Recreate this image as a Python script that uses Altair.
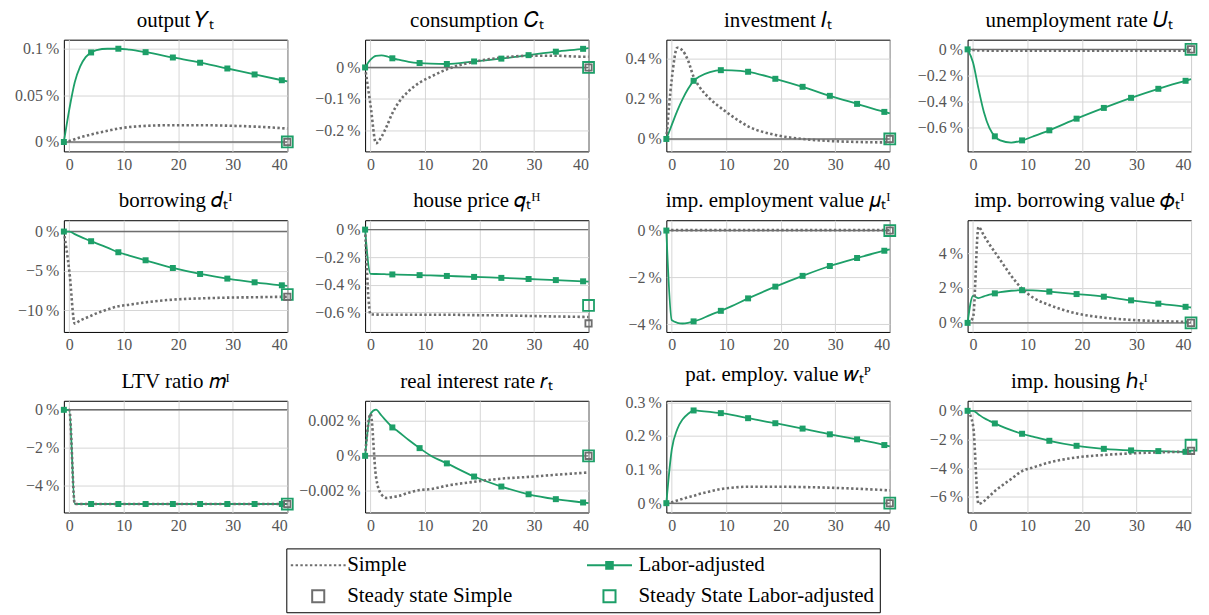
import altair as alt
import pandas as pd

# ---------------- data ----------------
T = [-1, 0, 1, 2, 3, 4, 5, 7, 9, 11, 14, 19, 24, 29, 34, 39, 40]
MARK_T = [-1, 4, 9, 14, 19, 24, 29, 34, 39]

titles = [
    "output 𝑌ₜ", "consumption 𝐶ₜ", "investment 𝐼ₜ", "unemployment rate 𝑈ₜ",
    "borrowing 𝑑ₜᴵ", "house price 𝑞ₜᴴ", "imp. employment value 𝜇ₜᴵ", "imp. borrowing value 𝜙ₜᴵ",
    "LTV ratio 𝑚ᴵ", "real interest rate 𝑟ₜ", "pat. employ. value 𝑤ₜᴾ", "imp. housing ℎₜᴵ",
]

output_simple = [0, 0.001, 0.003, 0.005, 0.0065, 0.008, 0.0095, 0.012, 0.0145, 0.016, 0.0173, 0.018, 0.018, 0.0175, 0.0165, 0.0148, 0.0143]
output_labor = [0, 0.035, 0.064, 0.081, 0.091, 0.096, 0.0985, 0.1, 0.1, 0.099, 0.0963, 0.0906, 0.085, 0.0788, 0.0724, 0.0662, 0.065]

cons_simple = [0, -0.12, -0.24, -0.22, -0.185, -0.145, -0.115, -0.075, -0.048, -0.03, -0.006, 0.018, 0.031, 0.037, 0.037, 0.034, 0.034]
cons_labor = [0, 0.025, 0.037, 0.038, 0.035, 0.029, 0.025, 0.018, 0.014, 0.012, 0.011, 0.019, 0.028, 0.039, 0.05, 0.059, 0.061]

inv_simple = [0, 0.3, 0.455, 0.44, 0.39, 0.31, 0.263, 0.2, 0.155, 0.115, 0.063, 0.02, 0.0, -0.01, -0.015, -0.017, -0.017]
inv_labor = [0, 0.07, 0.14, 0.2, 0.25, 0.29, 0.31, 0.333, 0.343, 0.342, 0.335, 0.30, 0.26, 0.215, 0.175, 0.135, 0.128]

unemp_simple = [0, -0.005, -0.008, -0.009, -0.01, -0.01, -0.01, -0.01, -0.01, -0.01, -0.01, -0.01, -0.01, -0.01, -0.01, -0.01, -0.01]
unemp_labor = [0, -0.1, -0.3, -0.48, -0.6, -0.664, -0.695, -0.712, -0.695, -0.665, -0.618, -0.529, -0.447, -0.37, -0.301, -0.24, -0.228]

borrow_simple = [0, -5.0, -11.7, -11.3, -11.0, -10.7, -10.4, -9.9, -9.5, -9.3, -9.0, -8.65, -8.5, -8.4, -8.35, -8.3, -8.3]
borrow_labor = [0, 0, -0.33, -0.65, -0.95, -1.23, -1.5, -2.05, -2.63, -3.05, -3.65, -4.63, -5.39, -5.98, -6.45, -6.83, -6.9]

house_simple = [0, -0.615, -0.616, -0.617, -0.617, -0.617, -0.617, -0.617, -0.617, -0.617, -0.617, -0.62, -0.622, -0.626, -0.63, -0.633, -0.634]
house_labor = [0, -0.321, -0.322, -0.323, -0.324, -0.325, -0.326, -0.328, -0.33, -0.332, -0.336, -0.343, -0.35, -0.358, -0.366, -0.375, -0.377]

empv_simple = [0, 0.02, 0.02, 0.02, 0.02, 0.02, 0.02, 0.02, 0.02, 0.02, 0.02, 0.02, 0.02, 0.02, 0.02, 0.02, 0.02]
empv_labor = [0, -3.82, -3.93, -3.96, -3.93, -3.87, -3.8, -3.6, -3.42, -3.22, -2.89, -2.39, -1.93, -1.51, -1.17, -0.86, -0.8]

borv_simple = [0, 0.3, 5.5, 5.0, 4.5, 4.05, 3.6, 2.7, 1.95, 1.45, 1.02, 0.54, 0.3, 0.17, 0.1, 0.06, 0.05]
borv_labor = [0, 1.55, 1.42, 1.52, 1.62, 1.69, 1.76, 1.84, 1.87, 1.86, 1.79, 1.65, 1.5, 1.29, 1.1, 0.92, 0.88]

ltv_simple = [0, 0, -5, -5, -5, -5, -5, -5, -5, -5, -5, -5, -5, -5, -5, -5, -5]
ltv_labor = [0, 0, -5, -5, -5, -5, -5, -5, -5, -5, -5, -5, -5, -5, -5, -5, -5]

rate_simple = [0, 0.0024, -0.0012, -0.0022, -0.0024, -0.00235, -0.0023, -0.0021, -0.00195, -0.0019, -0.0017, -0.00148, -0.0013, -0.0012, -0.00108, -0.00097, -0.00095]
rate_labor = [0, 0.0024, 0.00263, 0.0023, 0.00195, 0.00162, 0.0014, 0.0009, 0.00044, 0.00002, -0.00043, -0.00118, -0.00175, -0.00219, -0.00247, -0.00266, -0.0027]

pat_simple = [0, 0.003, 0.008, 0.013, 0.018, 0.022, 0.027, 0.035, 0.042, 0.046, 0.049, 0.049, 0.048, 0.046, 0.043, 0.039, 0.038]
pat_labor = [0, 0.16, 0.22, 0.25, 0.266, 0.276, 0.275, 0.272, 0.268, 0.263, 0.253, 0.238, 0.222, 0.205, 0.19, 0.173, 0.169]

hous_simple = [0, -1.0, -6.5, -6.3, -5.95, -5.6, -5.3, -4.75, -4.2, -3.95, -3.6, -3.25, -3.08, -2.97, -2.9, -2.86, -2.86]
hous_labor = [0, 0, -0.25, -0.5, -0.7, -0.88, -1.05, -1.35, -1.6, -1.8, -2.09, -2.44, -2.65, -2.76, -2.81, -2.86, -2.86]

simple_series = [output_simple, cons_simple, inv_simple, unemp_simple, borrow_simple, house_simple,
                 empv_simple, borv_simple, ltv_simple, rate_simple, pat_simple, hous_simple]
labor_series = [output_labor, cons_labor, inv_labor, unemp_labor, borrow_labor, house_labor,
                empv_labor, borv_labor, ltv_labor, rate_labor, pat_labor, hous_labor]

ss_simple = [0, 0, 0, 0, -8.3, -0.68, 0, 0, -5, 0, 0, -2.79]
ss_labor = [0, 0, 0, 0, -8.0, -0.55, 0, 0, -5, 0, 0, -2.4]

y_ticks = [
    [0, 0.05, 0.1], [-0.2, -0.1, 0], [0, 0.2, 0.4], [-0.6, -0.4, -0.2, 0],
    [-10, -5, 0], [-0.6, -0.4, -0.2, 0], [-4, -2, 0], [0, 2, 4],
    [-4, -2, 0], [-0.002, 0, 0.002], [0, 0.1, 0.2, 0.3], [-6, -4, -2, 0],
]
y_domains = [
    [-0.0101, 0.1097], [-0.266, 0.088], [-0.062, 0.495], [-0.779, 0.074],
    [-12.76, 1.44], [-0.742, 0.068], [-4.32, 0.44], [-0.52, 5.88],
    [-5.45, 0.48], [-0.00323, 0.00314], [-0.0277, 0.3048], [-7.09, 0.70],
]
x_ticks = [0, 10, 20, 30, 40]

legend_labels = ["Simple", "Labor-adjusted", "Steady state Simple", "Steady State Labor-adjusted"]

# ---------------- styles ----------------
GREEN = "#1d9f68"
GREY = "#6e6e6e"
SERIF = "Liberation Serif"
W, H = 224, 112
SQ = "M-0.55,-0.55H0.55V0.55H-0.55Z"

LEG = alt.Legend(title=None, orient="none", legendX=223, legendY=510, columns=2,
                 direction="horizontal")


def panel(i):
    df = pd.DataFrame({
        "t": T + T,
        "value": simple_series[i] + labor_series[i],
        "series": ["Simple"] * len(T) + ["Labor-adjusted"] * len(T),
    })
    x = alt.X("t:Q", scale=alt.Scale(domain=[-1, 40], nice=False, zero=False),
              axis=alt.Axis(values=x_ticks, title=None, format="d"))
    y = alt.Y("value:Q", scale=alt.Scale(domain=y_domains[i], nice=False, zero=False),
              axis=alt.Axis(values=y_ticks[i], title=None,
                            labelExpr="format(datum.value, '~g') + '\u2009%'"))

    zero = alt.Chart(pd.DataFrame({"value": [0]})).mark_rule(
        color=GREY, strokeWidth=1.4).encode(y=y)
    labor_line = alt.Chart(df[df.series == "Labor-adjusted"]).mark_line(
        color=GREEN, strokeWidth=1.8, interpolate="monotone").encode(x=x, y=y)
    simple_line = alt.Chart(df[df.series == "Simple"]).mark_line(
        color=GREY, strokeWidth=2.6, strokeDash=[2.4, 2.4], interpolate="monotone").encode(x=x, y=y)
    marks = alt.Chart(df[(df.series == "Labor-adjusted") & (df.t.isin(MARK_T))]).mark_point(
        shape="square", filled=True, color=GREEN, size=36, opacity=1).encode(x=x, y=y)
    ss_l = alt.Chart(pd.DataFrame({"t": [40], "value": [ss_labor[i]]})).mark_point(
        shape="square", filled=False, color=GREEN, size=120, strokeWidth=1.8, opacity=1).encode(x=x, y=y)
    ss_s = alt.Chart(pd.DataFrame({"t": [40], "value": [ss_simple[i]]})).mark_point(
        shape="square", filled=False, color=GREY, size=40, strokeWidth=1.8, opacity=1).encode(x=x, y=y)

    layers = [zero, labor_line, simple_line, marks, ss_l, ss_s]

    if i == 0:
        leg = alt.Chart(pd.DataFrame({"series": legend_labels})).transform_filter("false").mark_point(
            filled=False, strokeWidth=2, opacity=1, size=484).encode(
            fill=alt.Fill("series:N", scale=alt.Scale(domain=legend_labels,
                          range=["transparent", GREEN, "transparent", "transparent"]), legend=LEG),
            stroke=alt.Stroke("series:N", scale=alt.Scale(domain=legend_labels,
                              range=[GREY, GREEN, GREY, GREEN]), legend=LEG),
            shape=alt.Shape("series:N", scale=alt.Scale(domain=legend_labels,
                            range=["M-2.5,0H2.5", "M-2.05,0H2.05M-0.3,-0.3H0.3V0.3H-0.3Z", SQ, SQ]),
                            legend=LEG),
            strokeDash=alt.StrokeDash("series:N", scale=alt.Scale(domain=legend_labels,
                                      range=[[2.4, 2.4], [1, 0], [1, 0], [1, 0]]), legend=LEG),
        )
        layers.append(leg)

    return alt.layer(*layers).properties(width=W, height=H, title=titles[i])


chart = alt.concat(*[panel(i) for i in range(12)], columns=4, spacing={"row": 69, "column": 78},
                   bounds="flush").properties(padding={"left": 5, "top": 0, "right": 0, "bottom": 0}).configure(
    font=SERIF,
).configure_view(
    stroke="black", strokeWidth=1,
).configure_axis(
    domain=False, ticks=False, grid=True, gridColor="#d6d6d6", gridWidth=1,
    labelFont=SERIF, labelFontSize=16, labelColor="#555555", labelPadding=5,
).configure_title(
    font=SERIF, fontSize=21, fontWeight="normal", color="black", offset=9, anchor="middle",
).configure_legend(
    labelFont=SERIF, labelFontSize=21, labelColor="black", strokeColor="black", padding=5,
    rowPadding=9, columnPadding=70, labelOffset=17, symbolOffset=15, symbolSize=484,
    symbolStrokeWidth=2, labelLimit=400, cornerRadius=0,
)

chart.save("out.html", embed_options={"renderer": "svg", "actions": False})
